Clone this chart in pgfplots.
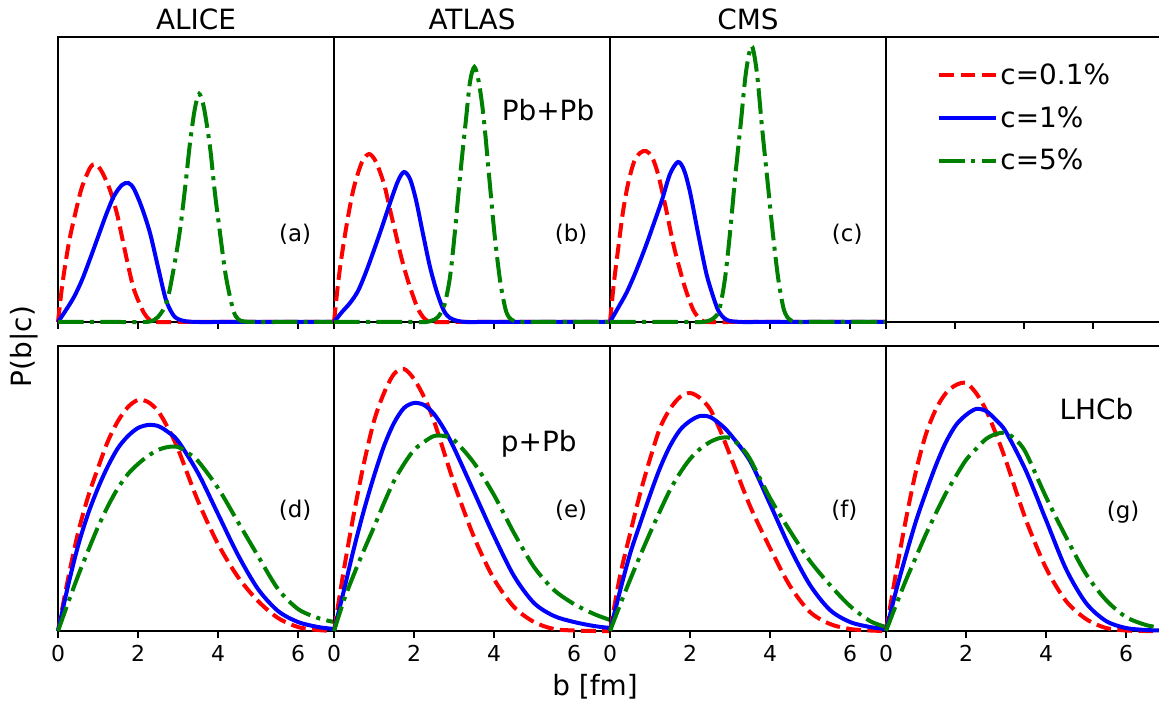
\documentclass[border=0pt]{standalone}
\usepackage{pgfplots}
\pgfplotsset{compat=1.18}
\usepackage{fontspec}
\setmainfont{DejaVu Sans}
\definecolor{mplgreen}{RGB}{0,128,0}

\tikzset{
  cr/.style={color=red, line width=2bp, dash pattern=on 7.4bp off 3.2bp},
  cb/.style={color=blue, line width=2bp},
  cg/.style={color=mplgreen, line width=2bp, dash pattern=on 12.8bp off 3.2bp on 2bp off 3.2bp},
  lab/.style={font=\fontsize{11.5}{14}\selectfont},
  big/.style={font=\fontsize{14}{17}\selectfont},
}
\pgfplotsset{
  panel/.style={
    scale only axis, width=138bp, height=142.5bp, anchor=south west,
    xmin=0, xmax=6.9, ymin=0, ymax=285,
    xtick={0,2,4,6}, ytick=\empty, xtick pos=bottom,
    tick align=outside, major tick length=3.5bp,
    axis line style={line width=0.7bp},
    every tick/.style={black, line width=0.7bp},
    tick label style={font=\fontsize{11}{13}\selectfont},
    /pgf/number format/assume math mode=true,
    clip=false,
    every axis plot/.append style={smooth},
  },
  top/.style={panel, xticklabels={}},
}

\begin{document}
\begin{tikzpicture}

% ---------------- Pb+Pb row ----------------
\begin{axis}[top, at={(29bp,190bp)}]
\addplot[cr] coordinates {(0,0) (0.1,35) (0.2,62) (0.3,85) (0.47,115) (0.6,135) (0.8,154) (0.94,158) (1.1,150) (1.3,132) (1.47,109) (1.6,85) (1.75,57) (1.88,35) (2.0,22) (2.15,9) (2.3,2) (2.5,0) (3,0) (3.5,0) (4,0) (4.5,0) (5,0) (5.5,0) (6,0) (6.5,0) (6.9,0)};
\addplot[cb] coordinates {(0,0) (0.2,12) (0.4,25) (0.6,42) (0.8,63) (1.0,85) (1.2,107) (1.4,126) (1.6,137) (1.76,139) (1.9,133) (2.1,114) (2.3,89) (2.5,55) (2.7,22) (2.9,6) (3.1,1.5) (3.3,0.3) (3.5,0) (4,0) (4.5,0) (5,0) (5.5,0) (6,0) (6.5,0) (6.9,0)};
\addplot[cg] coordinates {(0,0) (0.5,0) (1,0) (1.5,0) (2,0) (2.3,0.5) (2.5,5) (2.72,20) (2.9,55) (3.05,92) (3.18,135) (3.3,179) (3.42,213) (3.53,228) (3.65,214) (3.8,175) (3.92,130) (4.05,89) (4.2,45) (4.38,12) (4.5,3) (4.65,0.5) (5,0) (5.5,0) (6,0) (6.5,0) (6.9,0)};
\node[lab] at (axis cs:5.93,88) {(a)};
\end{axis}

\begin{axis}[top, at={(167bp,190bp)}]
\addplot[cr] coordinates {(0,0) (0.1,38) (0.2,68) (0.35,105) (0.5,135) (0.7,160) (0.88,168) (1.05,160) (1.25,138) (1.42,109) (1.55,87) (1.68,65) (1.82,45) (1.95,29) (2.1,13) (2.27,3) (2.45,0) (3,0) (3.5,0) (4,0) (4.5,0) (5,0) (5.5,0) (6,0) (6.5,0) (6.9,0)};
\addplot[cb] coordinates {(0,0) (0.2,10) (0.4,19) (0.6,31) (0.8,50) (1.0,72) (1.2,95) (1.4,119) (1.6,141) (1.75,150) (1.9,143) (2.05,122) (2.22,89) (2.4,55) (2.58,29) (2.75,11) (2.9,4) (3.1,1) (3.3,0) (3.6,0) (4,0) (4.5,0) (5,0) (5.5,0) (6,0) (6.5,0) (6.9,0)};
\addplot[cg] coordinates {(0,0) (0.5,0) (1,0) (1.5,0) (2,0) (2.3,0) (2.45,1.5) (2.6,5) (2.76,17) (2.9,45) (3.02,89) (3.15,145) (3.29,199) (3.4,240) (3.51,255) (3.62,240) (3.74,205) (3.88,145) (4.01,89) (4.15,42) (4.28,14) (4.37,5) (4.5,1) (4.7,0) (5,0) (5.5,0) (6,0) (6.5,0) (6.9,0)};
\node[lab] at (axis cs:5.93,88) {(b)};
\node[big] at (axis cs:5.35,212) {Pb+Pb};
\end{axis}

\begin{axis}[top, at={(305bp,190bp)}]
\addplot[cr] coordinates {(0,0) (0.1,40) (0.2,72) (0.32,109) (0.45,138) (0.6,160) (0.75,169) (0.9,171) (1.05,165) (1.2,148) (1.39,115) (1.6,75) (1.84,39) (2.0,20) (2.11,10) (2.27,2) (2.45,0) (3,0) (3.5,0) (4,0) (4.5,0) (5,0) (5.5,0) (6,0) (6.5,0) (6.9,0)};
\addplot[cb] coordinates {(0,0) (0.2,14) (0.41,29) (0.6,46) (0.8,66) (0.95,82) (1.1,99) (1.3,122) (1.5,148) (1.7,160) (1.85,152) (2.0,130) (2.2,89) (2.4,50) (2.55,29) (2.7,12) (2.85,4) (3.0,1) (3.3,0) (3.6,0) (4,0) (4.5,0) (5,0) (5.5,0) (6,0) (6.5,0) (6.9,0)};
\addplot[cg] coordinates {(0,0) (0.5,0) (1,0) (1.5,0) (2,0) (2.3,0) (2.45,1) (2.6,4) (2.73,12) (2.87,42) (3.0,89) (3.13,145) (3.27,199) (3.4,250) (3.54,276) (3.67,250) (3.8,195) (3.94,140) (4.07,89) (4.2,45) (4.33,15) (4.43,5) (4.55,1) (4.7,0) (5,0) (5.5,0) (6,0) (6.5,0) (6.9,0)};
\node[lab] at (axis cs:5.93,88) {(c)};
\end{axis}

\begin{axis}[top, at={(443bp,190bp)}, xmin=0, xmax=1, xtick={0,0.25,0.5,0.75,1},
  legend style={draw=none, fill=none, at={(axis description cs:0.185,0.915)}, anchor=north west,
    font=\fontsize{14}{17}\selectfont, row sep=7.5bp, inner sep=0pt,
    nodes={inner sep=1bp}},
  legend cell align=left,
  legend image code/.code={\draw[#1] (0bp,0bp) -- (28.5bp,0bp);}]
\addlegendimage{cr}\addlegendentry{c=0.1\%}
\addlegendimage{cb}\addlegendentry{c=1\%}
\addlegendimage{cg}\addlegendentry{c=5\%}
\end{axis}

% ---------------- p+Pb row ----------------
\begin{axis}[panel, at={(29bp,35.5bp)}]
\addplot[cr] coordinates {(0,0) (0.25,52) (0.5,98) (0.75,134) (1.0,163) (1.25,190) (1.5,210) (1.75,224) (2.0,231) (2.25,229) (2.5,220) (2.75,203) (3.0,182) (3.5,130) (4.0,87) (4.5,54) (5.0,30) (5.5,13) (6.0,4) (6.5,1) (6.9,0)};
\addplot[cb] coordinates {(0,0) (0.25,45) (0.5,85) (0.75,117) (1.0,143) (1.25,165) (1.5,183) (1.75,195) (2.0,203) (2.25,206) (2.5,205) (2.75,199) (3.0,190) (3.5,158) (4.0,117) (4.5,76) (5.0,42) (5.5,20) (6.0,9) (6.5,4) (6.9,2)};
\addplot[cg] coordinates {(0,0) (0.25,28) (0.5,55) (0.75,80) (1.0,104) (1.25,125) (1.5,143) (1.75,157) (2.0,167) (2.25,175) (2.5,181) (2.75,184) (3.0,184) (3.25,178) (3.5,170) (4.0,143) (4.5,109) (5.0,75) (5.5,42) (6.0,22) (6.5,13) (6.9,9)};
\node[lab] at (axis cs:5.93,121) {(d)};
\end{axis}

\begin{axis}[panel, at={(167bp,35.5bp)}]
\addplot[cr] coordinates {(0,0) (0.25,62) (0.5,118) (0.75,168) (1.0,210) (1.25,238) (1.5,257) (1.75,262) (2.0,252) (2.25,234) (2.5,210) (3.0,148) (3.5,94) (4.0,52) (4.5,24) (5.0,9) (5.5,2) (6.0,0.5) (6.5,0) (6.9,0)};
\addplot[cb] coordinates {(0,0) (0.25,41) (0.5,83) (0.75,121) (1.0,155) (1.25,185) (1.5,208) (1.75,223) (2.0,228) (2.25,226) (2.5,217) (2.75,202) (3.0,183) (3.5,139) (4.0,95) (4.5,55) (5.0,28) (5.5,15) (6.0,9) (6.5,5) (6.9,3)};
\addplot[cg] coordinates {(0,0) (0.25,31) (0.5,57) (0.75,81) (1.0,104) (1.25,128) (1.5,150) (1.75,167) (2.0,181) (2.25,189) (2.5,195) (2.75,195) (3.0,191) (3.5,168) (4.0,136) (4.5,98) (5.0,64) (5.5,41) (6.0,27) (6.5,17) (6.9,11)};
\node[lab] at (axis cs:5.93,121) {(e)};
\node[big] at (axis cs:5.12,187) {p+Pb};
\end{axis}

\begin{axis}[panel, at={(305bp,35.5bp)}]
\addplot[cr] coordinates {(0,0) (0.25,55) (0.5,97) (0.75,137) (1.0,172) (1.25,203) (1.5,222) (1.75,234) (2.0,238) (2.25,233) (2.5,222) (2.75,201) (3.0,176) (3.5,125) (4.0,83) (4.5,45) (5.0,19) (5.5,7) (6.0,2) (6.5,0.5) (6.9,0)};
\addplot[cb] coordinates {(0,0) (0.25,40) (0.5,77) (0.75,107) (1.0,136) (1.25,163) (1.5,185) (1.75,201) (2.0,210) (2.25,215) (2.5,214) (2.75,207) (3.0,197) (3.5,170) (4.0,127) (4.5,83) (5.0,46) (5.5,21) (6.0,9) (6.5,4) (6.9,2)};
\addplot[cg] coordinates {(0,0) (0.25,26) (0.5,51) (0.75,75) (1.0,98) (1.25,120) (1.5,141) (1.75,158) (2.0,172) (2.25,182) (2.5,189) (2.75,193) (3.0,193) (3.25,185) (3.5,172) (4.0,133) (4.5,100) (5.0,70) (5.5,46) (6.0,25) (6.5,10) (6.9,4)};
\node[lab] at (axis cs:5.86,121) {(f)};
\end{axis}

\begin{axis}[panel, at={(443bp,35.5bp)}]
\addplot[cr] coordinates {(0,0) (0.25,58) (0.5,112) (0.75,160) (1.0,197) (1.25,222) (1.5,238) (1.75,246) (2.0,248) (2.25,238) (2.5,221) (2.75,197) (3.0,170) (3.5,111) (4.0,63) (4.5,30) (5.0,12) (5.5,3) (6.0,0.5) (6.5,0) (6.9,0)};
\addplot[cb] coordinates {(0,0) (0.25,40) (0.5,76) (0.75,110) (1.0,139) (1.25,166) (1.5,189) (1.75,206) (2.0,216) (2.25,222) (2.5,220) (2.75,211) (3.0,199) (3.5,160) (4.0,111) (4.5,62) (5.0,28) (5.5,10) (6.0,3) (6.5,1) (6.9,0.5)};
\addplot[cg] coordinates {(0,0) (0.25,26) (0.5,51) (0.75,74) (1.0,97) (1.25,118) (1.5,138) (1.75,155) (2.0,171) (2.25,182) (2.5,192) (2.75,197) (3.0,198) (3.25,191) (3.5,178) (4.0,134) (4.5,94) (5.0,57) (5.5,31) (6.0,14) (6.5,6) (6.9,3)};
\node[lab] at (axis cs:5.93,119) {(g)};
\node[big] at (axis cs:5.26,222) {LHCb};
\end{axis}

% titles and axis labels
\node[big, anchor=base] at (98bp,336.3bp) {ALICE};
\node[big, anchor=base] at (236bp,336.3bp) {ATLAS};
\node[big, anchor=base] at (374bp,336.3bp) {CMS};
\node[big, rotate=90] at (12bp,177.7bp) {P(b|c)};
\node[big] at (297.5bp,7.7bp) {b [fm]};

\pgfresetboundingbox
\path[use as bounding box] (0,0) rectangle (579.5bp,351bp);
\end{tikzpicture}
\end{document}
